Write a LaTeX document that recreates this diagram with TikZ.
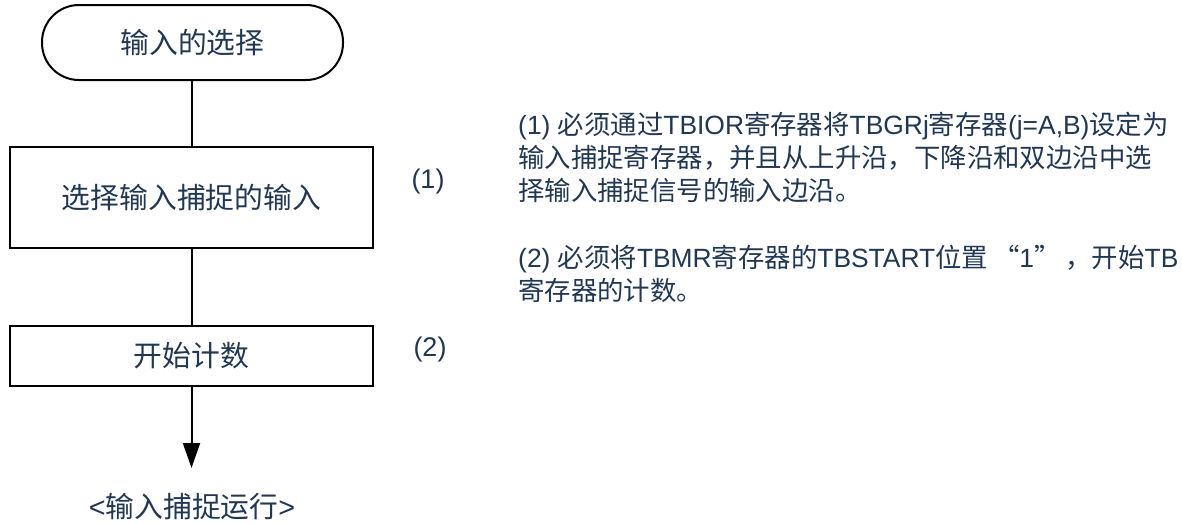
\documentclass[tikz,border=0pt]{standalone}
\usepackage{fontspec}
\setmainfont{Liberation Sans}
\newfontfamily\cjk{Noto Sans CJK SC}
\usetikzlibrary{arrows.meta}
\definecolor{txt}{RGB}{33,55,82}
\begin{document}
\begin{tikzpicture}[x=1pt,y=-1pt,
  every node/.style={text=txt},
  box/.style={draw=black, line width=2pt, minimum width=363pt, inner sep=0pt,
    font=\cjk\fontsize{28.8}{32}\selectfont},
  term/.style={box, rounded corners=37pt, minimum width=301pt, minimum height=75pt},
  link/.style={line width=2pt, draw=black},
  lbl/.style={inner sep=0pt, font=\fontsize{27}{30}\selectfont},
  note/.style={anchor=base west, inner sep=0pt, font=\fontsize{26.4}{30}\selectfont}]
\useasboundingbox (0,0) rectangle (1182,522);
% flow
\node[term] (start) at (192.5,42.5) {输入的选择};
\node[box, minimum height=101pt] (sel) at (191.5,197.5) {选择输入捕捉的输入};
\node[box, minimum height=60pt] (cnt) at (191.5,356) {开始计数};
\coordinate (tip) at (191.5,468);
\node[inner sep=0pt, font=\fontsize{28.8}{32}\selectfont] (end) at (192,507) {<{\cjk 输入捕捉运行}>};
\draw[link] (sel.north |- start.south) -- (sel);
\draw[link] (sel) -- (cnt);
\draw[link, -{Triangle[length=25pt,width=17pt]}] (cnt) -- (tip);
% labels
\node[lbl] (l1) at (428,182) {(1)};
\node[lbl] (l2) at (430,350) {(2)};
% notes
\node[note] (n1a) at (518,134) {(1) {\cjk 必须通过}TBIOR{\cjk 寄存器将}TBGRj{\cjk 寄存器}(j=A,B){\cjk 设定为}};
\node[note] (n1b) at (518,167) {\cjk 输入捕捉寄存器，并且从上升沿，下降沿和双边沿中选};
\node[note] (n1c) at (518,200) {\cjk 择输入捕捉信号的输入边沿。};
\node[note] (n2a) at (518,267) {(2) {\cjk 必须将}TBMR{\cjk 寄存器的}TBSTART{\cjk 位置}\hspace{5pt}{\cjk “}1{\cjk ”}\hspace{5pt}{\cjk ，开始}TB};
\node[note] (n2b) at (518,300) {\cjk 寄存器的计数。};
\end{tikzpicture}
\end{document}
